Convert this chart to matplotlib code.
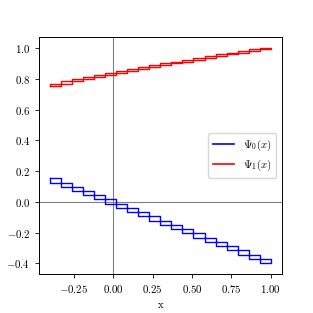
import matplotlib
matplotlib.use('Agg')
import matplotlib.pyplot as plt
from matplotlib.lines import Line2D

plt.rcParams['font.family'] = 'serif'
plt.rcParams['font.serif'] = ['cmr10']
plt.rcParams['mathtext.fontset'] = 'cm'
plt.rcParams['axes.formatter.use_mathtext'] = True
plt.rcParams['font.size'] = 7.8
plt.rcParams['axes.linewidth'] = 0.7
plt.rcParams['xtick.major.size'] = 2.8
plt.rcParams['ytick.major.size'] = 2.8
plt.rcParams['xtick.major.width'] = 0.6
plt.rcParams['ytick.major.width'] = 0.6

# cell edges
edges = [-0.4, -0.33, -0.26, -0.19, -0.12, -0.05, 0.02, 0.09, 0.16, 0.23, 0.30,
         0.37, 0.44, 0.51, 0.58, 0.65, 0.72, 0.79, 0.86, 0.93, 1.00]

# values at cell edges
psi0 = [0.154, 0.126, 0.099, 0.071, 0.043, 0.016, -0.012, -0.040, -0.067, -0.095,
        -0.123, -0.150, -0.178, -0.206, -0.233, -0.261, -0.288, -0.316, -0.344,
        -0.371, -0.399]
psi1 = [0.755, 0.770, 0.784, 0.798, 0.812, 0.826, 0.839, 0.852, 0.864, 0.877,
        0.889, 0.902, 0.914, 0.925, 0.937, 0.948, 0.960, 0.971, 0.982, 0.993,
        1.004]

fig, ax = plt.subplots(figsize=(3.13, 3.13), dpi=100)
fig.subplots_adjust(left=0.125, right=0.9, top=0.882, bottom=0.125)

ax.axhline(0, color='gray', lw=0.8)
ax.axvline(0, color='gray', lw=0.8)

for vals, col in [(psi0, 'blue'), (psi1, 'red')]:
    for k in range(len(edges) - 1):
        x0, x1 = edges[k], edges[k + 1]
        a, b = vals[k], vals[k + 1]
        ax.plot([x0, x1, x1, x0, x0], [a, a, b, b, a], color=col, lw=1.0)

handles = [Line2D([], [], color='blue', lw=1.2),
           Line2D([], [], color='red', lw=1.2)]
ax.legend(handles, [r'$\Psi_0(x)$', r'$\Psi_1(x)$'], loc='center right')
ax.set_xlabel('x')
ax.set_xticks([-0.25, 0, 0.25, 0.5, 0.75, 1.0])

fig.savefig('out.png', dpi=100)
